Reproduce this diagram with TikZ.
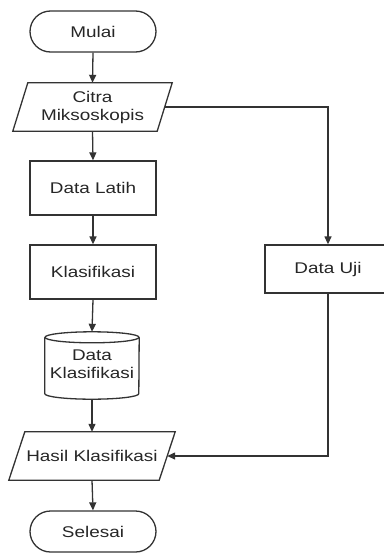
\documentclass[tikz,border=0pt]{standalone}
\usepackage{fontspec}
\setmainfont[FakeStretch=1.22]{Liberation Sans}
\usetikzlibrary{arrows.meta,shapes.misc,calc}
\begin{document}
\begin{tikzpicture}[x=1pt,y=1pt,
  every node/.style={font=\fontsize{15.5}{18}\selectfont, text=black!85, align=center, inner sep=0pt},
  line/.style={draw=black!80, line width=1.3pt},
  arr/.style={line, -{Triangle[length=8pt,width=7pt]}},
  terminal/.style={line, rounded rectangle, minimum width=126pt, minimum height=41pt},
  procbox/.style={line, rectangle, minimum width=126pt},
  iobox/.style={rectangle, minimum height=48pt}
]
\useasboundingbox (0,0) rectangle (383,-557);

\node[terminal] (mulai) at (93,-31.5) {Mulai};
\node[iobox, minimum width=159pt] (citra) at (92.5,-107) {Citra\\Miksoskopis};
\draw[line] ([xshift=15pt]citra.north west) -- (citra.north east)
  -- ([xshift=-15pt]citra.south east) -- (citra.south west) -- cycle;
\coordinate (citraR) at ($(citra.east)+(-7.5,0)$);

\node[procbox, minimum height=54pt] (latih) at (93,-188) {Data Latih};
\node[procbox, minimum height=54pt] (klas) at (93,-272) {Klasifikasi};
\node[procbox, minimum height=48pt] (uji) at (328,-269) {Data Uji};

\node[rectangle, minimum width=94pt, minimum height=67pt] (cyl) at (92,-365.5)
  {\raisebox{-6pt}{\begin{tabular}{@{}c@{}}Data\\Klasifikasi\end{tabular}}};
\draw[line] ([yshift=-5.5pt]cyl.north) ellipse [x radius=47pt, y radius=5.5pt];
\draw[line] ([yshift=-5.5pt]cyl.north west) -- ([yshift=5.5pt]cyl.south west)
  arc[start angle=180, end angle=360, x radius=47pt, y radius=5.5pt]
  -- ([yshift=-5.5pt]cyl.north east);

\node[iobox, minimum width=166pt] (hasil) at (92,-456) {Hasil Klasifikasi};
\draw[line] ([xshift=16pt]hasil.north west) -- (hasil.north east)
  -- ([xshift=-16pt]hasil.south east) -- (hasil.south west) -- cycle;
\coordinate (hasilR) at ($(hasil.east)+(-8,0)$);

\node[terminal] (selesai) at (93,-531.5) {Selesai};

\draw[arr] (mulai.south) -- (citra.north);
\draw[arr] (citra.south) -- (latih.north);
\draw[arr] (latih.south) -- (klas.north);
\draw[arr] (klas.south) -- (cyl.north);
\draw[arr] (cyl.south) -- (hasil.north);
\draw[arr] (hasil.south) -- (selesai.north);
\draw[arr] (citraR) -| (uji.north);
\draw[arr] (uji.south) |- (hasilR);
\end{tikzpicture}
\end{document}
